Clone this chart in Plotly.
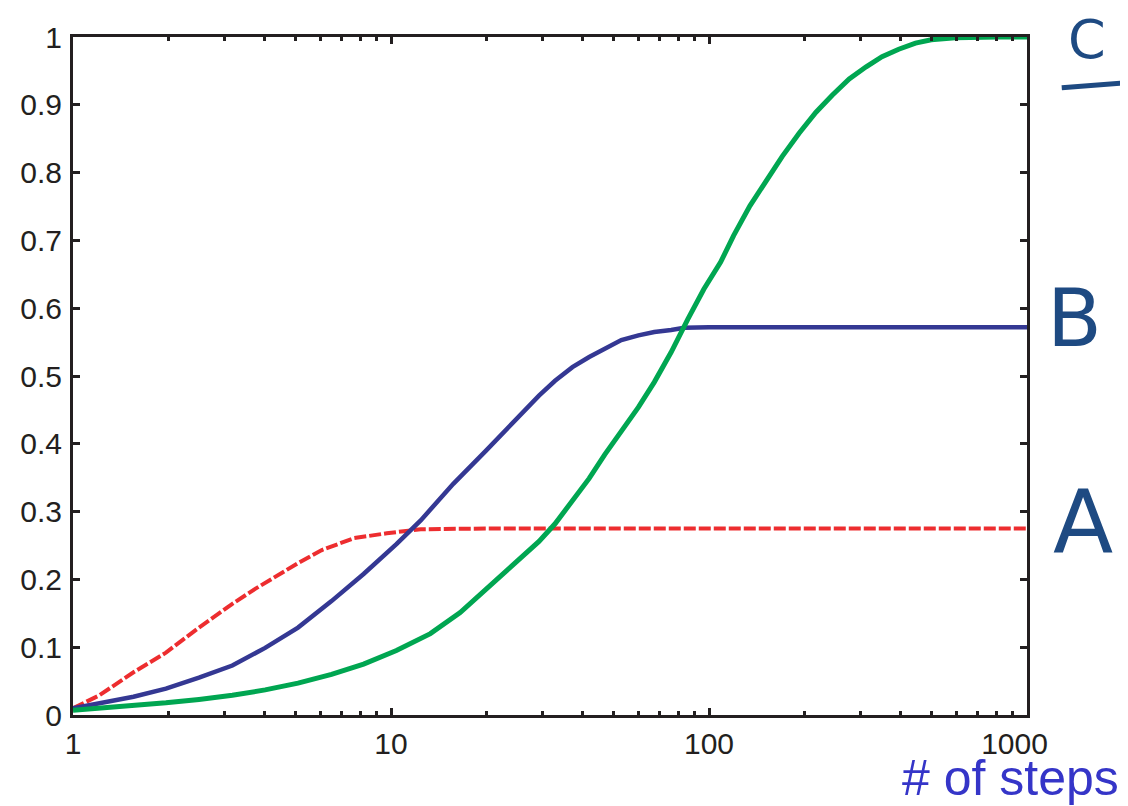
import plotly.graph_objects as go

# ---- data ----
steps_a = [1, 1.21, 1.55, 1.96, 2.49, 3.17, 3.74, 4.02, 4.74, 5.10, 6.04, 6.5, 7.67, 9.7, 12.4, 20, 50, 100, 300, 1000]
prob_a = [0.010, 0.029, 0.063, 0.092, 0.129, 0.164, 0.186, 0.195, 0.216, 0.224, 0.243, 0.249, 0.261, 0.268, 0.274, 0.275, 0.275, 0.275, 0.275, 0.275]

steps_b = [1, 1.21, 1.55, 1.96, 2.49, 3.17, 4.02, 5.10, 6.5, 8.2, 10.4, 12.4, 15.7, 19.9, 25.4, 29.2, 32.8, 37.2, 42, 47, 53, 60, 67.3, 76, 83.6, 100, 300, 1000]
prob_b = [0.010, 0.018, 0.027, 0.039, 0.055, 0.073, 0.099, 0.129, 0.168, 0.208, 0.252, 0.287, 0.341, 0.390, 0.443, 0.471, 0.493, 0.513, 0.528, 0.541, 0.553, 0.560, 0.565, 0.568, 0.571, 0.572, 0.572, 0.572]

steps_c = [1, 1.21, 1.55, 1.96, 2.49, 3.17, 4.02, 5.10, 6.5, 8.2, 10.4, 13.3, 16.5, 19.9, 25.4, 29.2, 32.8, 37.2, 42, 47, 53, 60, 67.3, 76, 85.8, 96.3, 108.8, 119.5, 134.5, 151.5, 170, 192, 217, 244, 276, 312, 350, 395, 446, 500, 595, 810, 1000]
prob_c = [0.007, 0.010, 0.013, 0.018, 0.023, 0.029, 0.037, 0.047, 0.060, 0.075, 0.095, 0.120, 0.151, 0.185, 0.230, 0.256, 0.282, 0.315, 0.349, 0.384, 0.418, 0.454, 0.491, 0.535, 0.584, 0.628, 0.668, 0.707, 0.751, 0.789, 0.824, 0.858, 0.889, 0.914, 0.938, 0.956, 0.971, 0.982, 0.991, 0.996, 0.999, 1.0, 1.0]

x_ticks = [1, 10, 100, 1000]
x_tick_labels = ["1", "10", "100", "1000&nbsp;&nbsp;&nbsp;"]
y_ticks = [0, 0.1, 0.2, 0.3, 0.4, 0.5, 0.6, 0.7, 0.8, 0.9, 1]
y_tick_labels = ["0", "0.1", "0.2", "0.3", "0.4", "0.5", "0.6", "0.7", "0.8", "0.9", "1"]
x_minor = [m * d for d in (1, 10, 100) for m in range(2, 10)]

series_labels = ["A", "B", "C"]
x_title = "# of steps"

# ---- styling ----
RED = "#ED2D2F"
BLUE = "#343893"
GREEN = "#00A651"
INK = "#231F20"
HAND = "#1E4A82"

fig = go.Figure()
fig.add_trace(go.Scatter(x=steps_a, y=prob_a, mode="lines", line=dict(color=RED, width=4, dash="12px,3px"),
                         showlegend=False, hoverinfo="skip"))
fig.add_trace(go.Scatter(x=steps_b, y=prob_b, mode="lines", line=dict(color=BLUE, width=4.5),
                         showlegend=False, hoverinfo="skip"))
fig.add_trace(go.Scatter(x=steps_c, y=prob_c, mode="lines", line=dict(color=GREEN, width=5),
                         showlegend=False, hoverinfo="skip"))

OFF = 8  # page body margin
W, H = 1128 - OFF, 806 - OFF
L, T, B = 66 - OFF, 33 - OFF, 91
R = 1128 - 1027
pw, ph = W - L - R, H - T - B


def px(x):
    return (x - OFF - L) / pw


def py(y):
    return (H + OFF - B - y) / ph


fig.update_layout(
    width=W, height=H,
    margin=dict(l=L, r=R, t=T, b=B),
    paper_bgcolor="white", plot_bgcolor="white",
    font=dict(family="Liberation Sans, Arial, sans-serif", color=INK),
    xaxis=dict(
        type="log", range=[0, 3], tickmode="array", tickvals=x_ticks, ticktext=x_tick_labels,
        ticks="inside", ticklen=7, tickwidth=2.5, tickcolor=INK,
        showline=True, linewidth=3, linecolor=INK, mirror="ticks",
        showgrid=False, zeroline=False, tickfont=dict(size=30, color=INK),
        minor=dict(tickmode="array", tickvals=x_minor, ticks="inside", ticklen=4, tickwidth=2.5,
                   tickcolor=INK, showgrid=False),
        ticklabelstandoff=0,
    ),
    yaxis=dict(
        range=[0, 1], tickmode="array", tickvals=y_ticks, ticktext=y_tick_labels,
        ticks="inside", ticklen=7, tickwidth=2.5, tickcolor=INK,
        showline=True, linewidth=3, linecolor=INK, mirror="ticks",
        showgrid=False, zeroline=False, tickfont=dict(size=30, color=INK),
        ticklabelstandoff=2,
    ),
)

# x-axis title at the bottom right
fig.add_annotation(text=x_title, xref="paper", yref="paper", x=px(1122), y=py(778),
                   xanchor="right", yanchor="middle", showarrow=False,
                   font=dict(family="Liberation Sans, Arial, sans-serif", size=50, color="#3535C8"))

# hand-written series labels on the right
fig.add_annotation(text=series_labels[2], xref="paper", yref="paper", x=px(1087), y=py(36),
                   xanchor="center", yanchor="middle", showarrow=False,
                   font=dict(family="DejaVu Sans", size=54, color=HAND))
fig.add_annotation(text=series_labels[1], xref="paper", yref="paper", x=px(1075), y=py(316),
                   xanchor="center", yanchor="middle", showarrow=False,
                   font=dict(family="DejaVu Sans", size=80, color=HAND))
fig.add_annotation(text=series_labels[0], xref="paper", yref="paper", x=px(1083), y=py(520),
                   xanchor="center", yanchor="middle", showarrow=False,
                   font=dict(family="DejaVu Sans", size=88, color=HAND))
fig.add_shape(type="line", xref="paper", yref="paper", x0=px(1062), y0=py(84), x1=px(1126), y1=py(79),
              line=dict(color=HAND, width=5))

fig.write_html("out.html")
